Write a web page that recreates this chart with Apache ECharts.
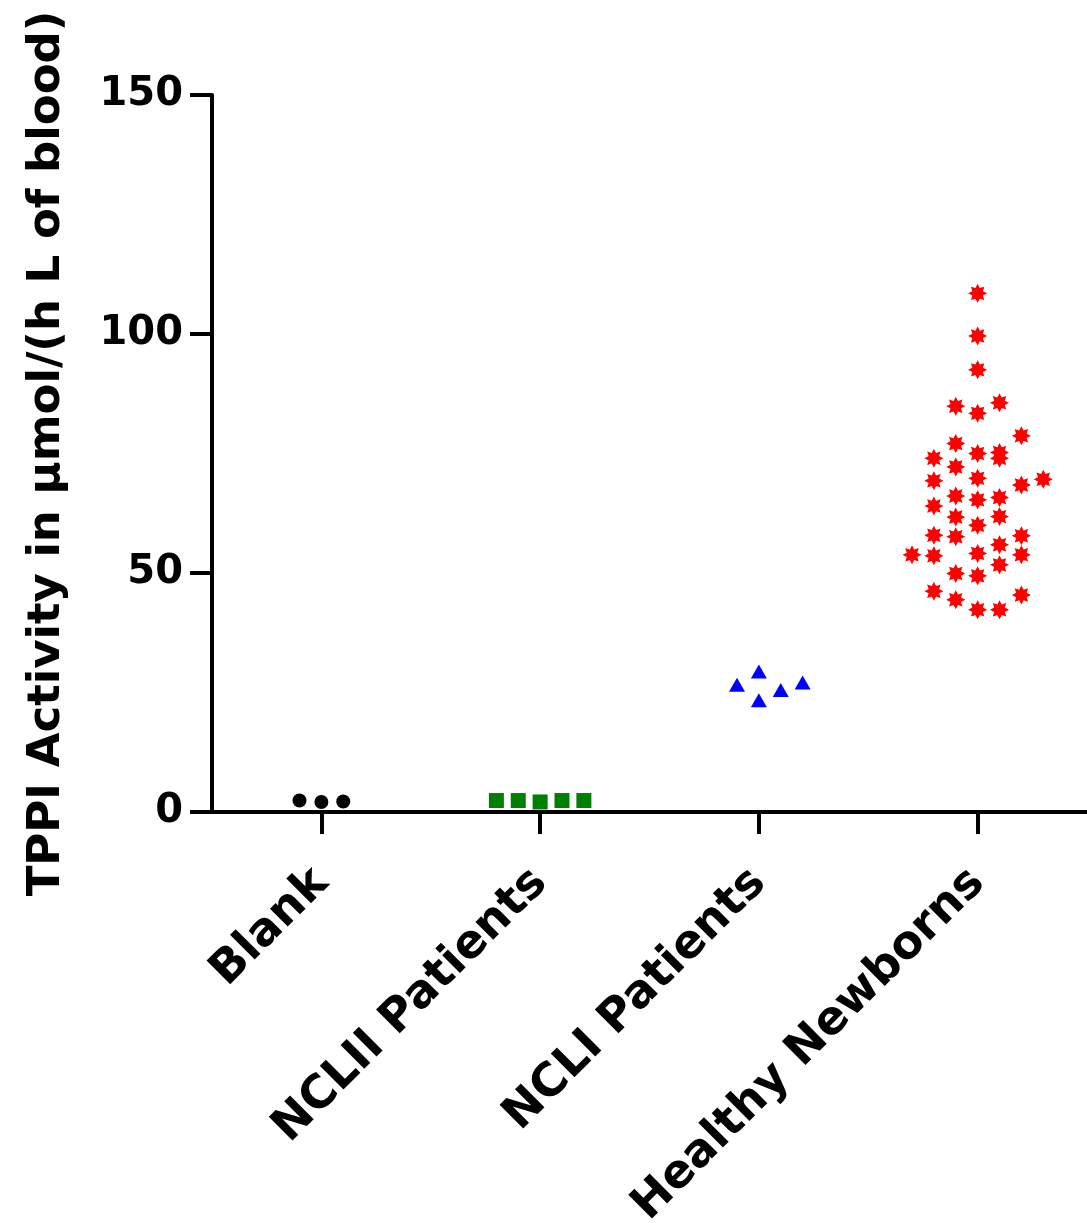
<!DOCTYPE html>
<html>
<head>
<meta charset="utf-8">
<script src="https://cdn.jsdelivr.net/npm/echarts@6/dist/echarts.min.js"></script>
<style>
html,body{margin:0;padding:0;background:#fff;}
#chart{width:1087px;height:1223px;}
</style>
</head>
<body>
<div id="chart"></div>
<script>
// ---- data ----
const categories = ['Blank', 'NCLII Patients', 'NCLI Patients', 'Healthy Newborns'];
const yAxisTitle = 'TPPI Activity in \u03bcmol/(h L of blood)';

const blankJitter = [-0.1, 0, 0.1];
const blankValues = [2.4, 2.1, 2.2];

const ncl2Jitter = [-0.2, -0.1, 0, 0.1, 0.2];
const ncl2Values = [2.4, 2.4, 2.1, 2.4, 2.4];

const ncl1Jitter = [-0.1, 0, 0, 0.1, 0.2];
const ncl1Values = [26.6, 29.4, 23.4, 25.5, 27.1];

const healthyJitter = [
  0, 0, 0, 0, 0, 0, 0, 0, 0, 0, 0,
  -0.1, -0.1, -0.1, -0.1, -0.1, -0.1, -0.1, -0.1,
  -0.2, -0.2, -0.2, -0.2, -0.2, -0.2,
  -0.3,
  0.1, 0.1, 0.1, 0.1, 0.1, 0.1, 0.1, 0.1,
  0.2, 0.2, 0.2, 0.2, 0.2,
  0.3
];
const healthyValues = [
  108.5, 99.6, 92.5, 83.4, 75.0, 69.8, 65.3, 60.0, 54.1, 49.4, 42.3,
  84.9, 77.1, 72.2, 66.1, 61.7, 57.6, 49.9, 44.4,
  74.0, 69.3, 64.0, 57.9, 53.6, 46.2,
  53.8,
  85.6, 75.2, 74.0, 65.8, 61.8, 55.9, 51.7, 42.3,
  78.7, 68.4, 57.8, 53.8, 45.4,
  69.6
];

// ---- helpers ----
function points(groupIndex, jitter, values) {
  return values.map((v, k) => [groupIndex + jitter[k], v]);
}
function starPath(n, R, r) {
  let d = '';
  for (let i = 0; i < 2 * n; i++) {
    const a = i * Math.PI / n - Math.PI / 2;
    const rad = i % 2 ? r : R;
    const x = (R + rad * Math.cos(a)).toFixed(3);
    const y = (R + rad * Math.sin(a)).toFixed(3);
    d += (i ? 'L' : 'M') + x + ' ' + y + ' ';
  }
  return 'path://' + d + 'Z';
}

const FONT = 'DejaVu Sans';
const chart = echarts.init(document.getElementById('chart'), null, {renderer: 'canvas'});
chart.setOption({
  animation: false,
  backgroundColor: '#fff',
  grid: {left: 212, right: 0, top: 95, bottom: 411, containLabel: false, outerBoundsMode: 'none'},
  xAxis: [
    {
      type: 'category',
      data: categories,
      boundaryGap: true,
      axisLine: {show: true, onZero: false, lineStyle: {color: '#000', width: 4}},
      axisTick: {show: true, alignWithLabel: true, length: 22, lineStyle: {color: '#000', width: 4}},
      axisLabel: {rotate: 45, margin: 64, color: '#000', fontFamily: FONT, fontWeight: 'bold', fontSize: 46},
      splitLine: {show: false}
    },
    {
      type: 'value', min: -0.5, max: 3.5, show: false
    }
  ],
  yAxis: {
    type: 'value',
    min: 0, max: 150, interval: 50,
    name: yAxisTitle,
    nameLocation: 'middle',
    nameGap: 142,
    nameRotate: 90,
    nameTextStyle: {color: '#000', fontFamily: FONT, fontWeight: 'bold', fontSize: 45},
    axisLine: {show: true, onZero: false, lineStyle: {color: '#000', width: 4}},
    axisTick: {show: true, length: 22, lineStyle: {color: '#000', width: 4}},
    axisLabel: {margin: 29, color: '#000', fontFamily: FONT, fontWeight: 'bold', fontSize: 40},
    splitLine: {show: false}
  },
  series: [
    {type: 'scatter', xAxisIndex: 1, data: points(0, blankJitter, blankValues),
     symbol: 'circle', symbolSize: 14, itemStyle: {color: '#000', opacity: 1}, z: 5},
    {type: 'scatter', xAxisIndex: 1, data: points(1, ncl2Jitter, ncl2Values),
     symbol: 'rect', symbolSize: 15, itemStyle: {color: '#008000', opacity: 1}, z: 5},
    {type: 'scatter', xAxisIndex: 1, data: points(2, ncl1Jitter, ncl1Values),
     symbol: 'triangle', symbolSize: [16, 14], itemStyle: {color: '#0000ff', opacity: 1}, z: 5},
    {type: 'scatter', xAxisIndex: 1, data: points(3, healthyJitter, healthyValues),
     symbol: starPath(8, 10, 6), symbolSize: 19, itemStyle: {color: '#ff0000', opacity: 1}, z: 5}
  ]
});
</script>
</body>
</html>
